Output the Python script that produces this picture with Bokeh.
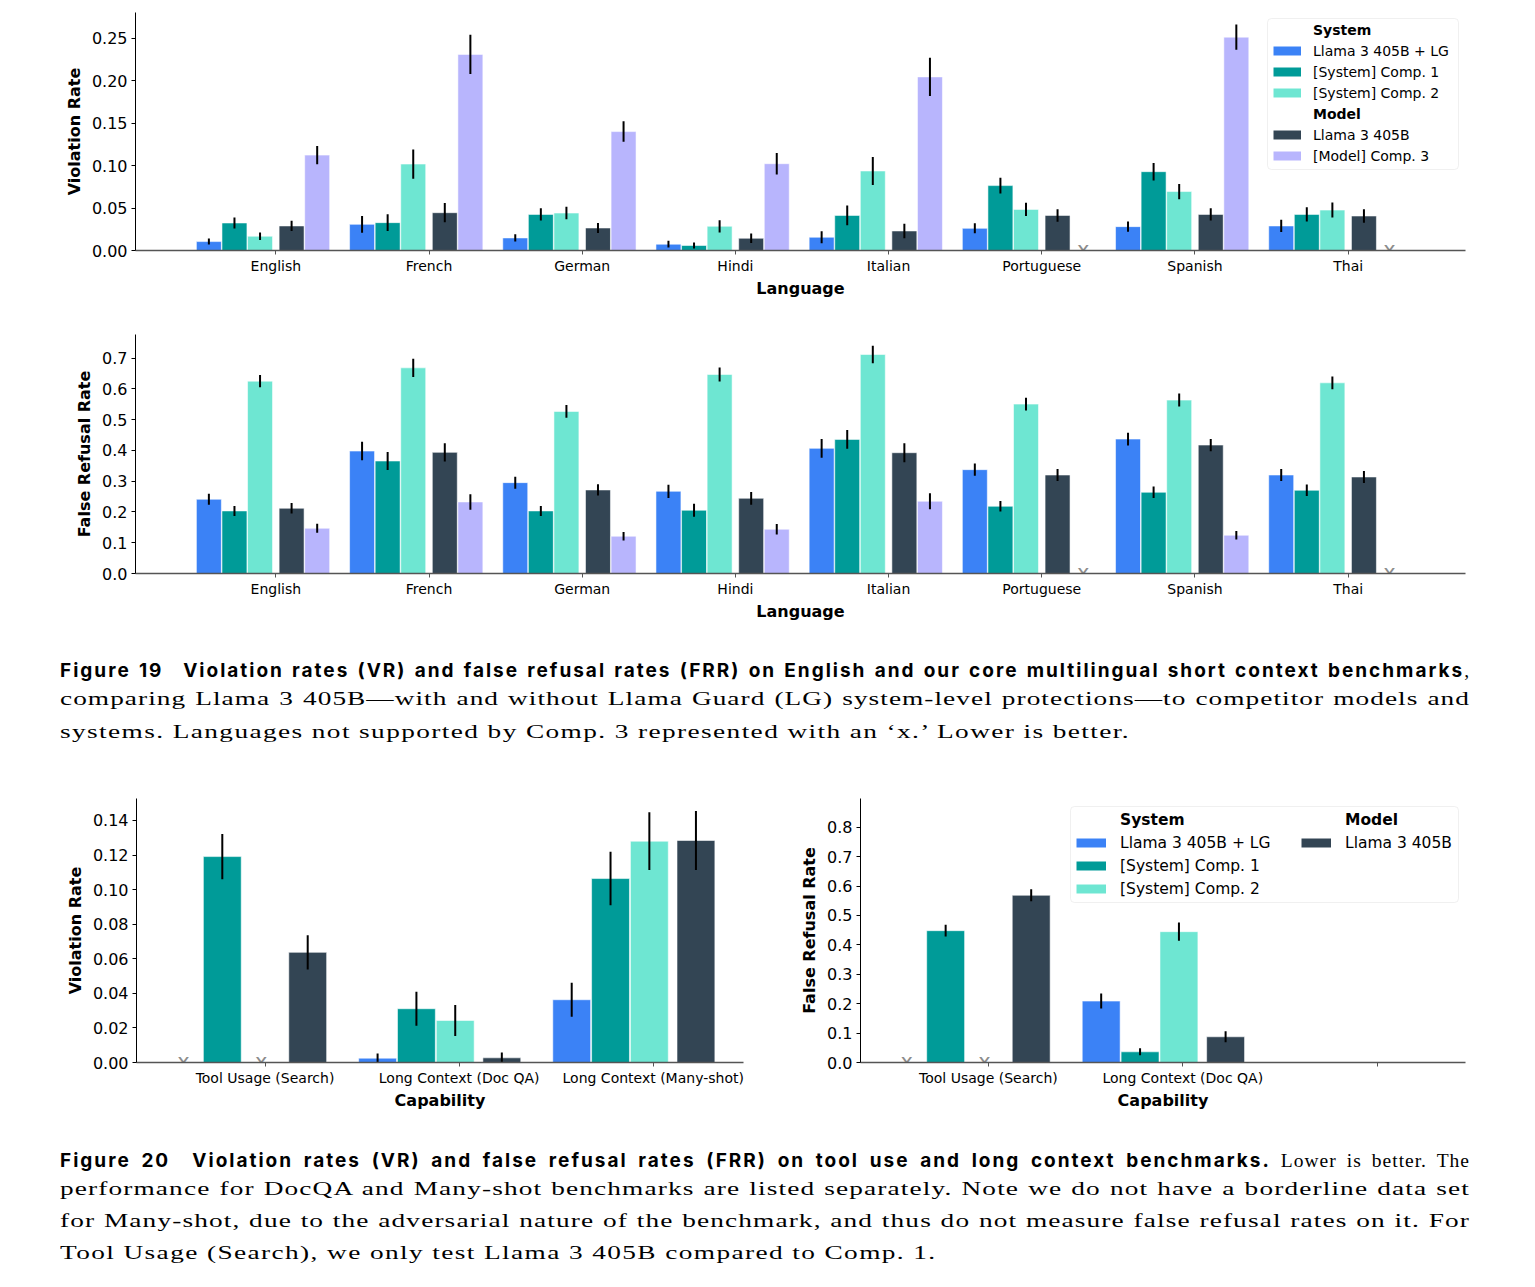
from bokeh.plotting import figure
from bokeh.models import (Range1d, FixedTicker, SingleIntervalTicker, PrintfTickFormatter,
                          Legend, LegendItem, BoxAnnotation, Div, ColumnDataSource)
from bokeh.layouts import column, row
from bokeh.core.properties import value
from bokeh.embed import file_html
from bokeh.resources import INLINE

# ---------------- data ----------------
languages = ["English", "French", "German", "Hindi", "Italian", "Portuguese", "Spanish", "Thai"]
series_names = ["Llama 3 405B + LG", "[System] Comp. 1", "[System] Comp. 2", "Llama 3 405B", "[Model] Comp. 3"]
series_colors = ["#3b82f6", "#009b98", "#6ee6d2", "#334554", "#b8b5fd"]

# Violation rate (Figure 19, top)
vr_llama_lg = [0.0105, 0.0308, 0.0148, 0.0074, 0.0156, 0.0261, 0.0281, 0.0289]
vr_comp1 = [0.0324, 0.0328, 0.0425, 0.0059, 0.0413, 0.0764, 0.0928, 0.0425]
vr_comp2 = [0.0168, 0.1018, 0.0441, 0.0285, 0.0936, 0.0484, 0.0694, 0.0476]
vr_llama = [0.0289, 0.0445, 0.0265, 0.0144, 0.0230, 0.0413, 0.0425, 0.0406]
vr_comp3 = [0.1123, 0.2309, 0.1400, 0.1022, 0.2044, None, 0.2512, None]
vr_llama_lg_err = [0.0035, 0.0098, 0.0043, 0.0040, 0.0072, 0.0059, 0.0059, 0.0072]
vr_comp1_err = [0.0064, 0.0098, 0.0072, 0.0035, 0.0117, 0.0092, 0.0103, 0.0084]
vr_comp2_err = [0.0043, 0.0172, 0.0074, 0.0072, 0.0166, 0.0078, 0.0090, 0.0088]
vr_llama_err = [0.0060, 0.0113, 0.0059, 0.0055, 0.0086, 0.0074, 0.0072, 0.0080]
vr_comp3_err = [0.0107, 0.0230, 0.0121, 0.0127, 0.0226, None, 0.0148, None]

# False refusal rate (Figure 19, bottom)
frr_llama_lg = [0.2413, 0.3981, 0.2954, 0.2672, 0.4068, 0.3376, 0.4371, 0.3202]
frr_comp1 = [0.2034, 0.3657, 0.2034, 0.2056, 0.4360, 0.2185, 0.2640, 0.2705]
frr_comp2 = [0.6253, 0.6686, 0.5269, 0.6470, 0.7119, 0.5507, 0.5637, 0.6199]
frr_llama = [0.2121, 0.3938, 0.2716, 0.2445, 0.3927, 0.3202, 0.4176, 0.3138]
frr_comp3 = [0.1471, 0.2326, 0.1212, 0.1439, 0.2348, None, 0.1244, None]
frr_llama_lg_err = [0.0180, 0.0300, 0.0195, 0.0216, 0.0308, 0.0200, 0.0206, 0.0195]
frr_comp1_err = [0.0162, 0.0292, 0.0162, 0.0211, 0.0303, 0.0173, 0.0189, 0.0189]
frr_comp2_err = [0.0200, 0.0298, 0.0206, 0.0227, 0.0287, 0.0206, 0.0211, 0.0206]
frr_llama_err = [0.0173, 0.0298, 0.0184, 0.0206, 0.0308, 0.0195, 0.0200, 0.0195]
frr_comp3_err = [0.0146, 0.0254, 0.0141, 0.0173, 0.0260, None, 0.0141, None]

# Figure 20
capabilities = ["Tool Usage (Search)", "Long Context (Doc QA)", "Long Context (Many-shot)"]
frr_capability_ticks = ["Tool Usage (Search)", "Long Context (Doc QA)", ""]
cap_vr_llama_lg = [None, 0.0025, 0.0363]
cap_vr_comp1 = [0.1191, 0.0311, 0.1064]
cap_vr_comp2 = [None, 0.0243, 0.1280]
cap_vr_llama = [0.0637, 0.0027, 0.1284]
cap_vr_llama_lg_err = [None, 0.0027, 0.0098]
cap_vr_comp1_err = [0.0131, 0.0098, 0.0155]
cap_vr_comp2_err = [None, 0.0089, 0.0167]
cap_vr_llama_err = [0.0099, 0.0031, 0.0170]

cap_frr_llama_lg = [None, 0.2088]
cap_frr_comp1 = [0.4482, 0.0363]
cap_frr_comp2 = [None, 0.4448]
cap_frr_llama = [0.5685, 0.0874]
cap_frr_llama_lg_err = [None, 0.0255]
cap_frr_comp1_err = [0.0199, 0.0119]
cap_frr_comp2_err = [None, 0.0312]
cap_frr_llama_err = [0.0204, 0.0187]

# caption texts
caption19_bold = "Figure 19\u2002 Violation rates (VR) and false refusal rates (FRR) on English and our core multilingual short context benchmarks"
caption19_lines = [
    "comparing Llama 3 405B\u2014with and without Llama Guard (LG) system-level protections\u2014to competitor models and",
    "systems. Languages not supported by Comp. 3 represented with an \u2018x.\u2019 Lower is better.",
]
caption20_bold = "Figure 20\u2002 Violation rates (VR) and false refusal rates (FRR) on tool use and long context benchmarks."
caption20_rest = " Lower is better. The"
caption20_lines = [
    "performance for DocQA and Many-shot benchmarks are listed separately. Note we do not have a borderline data set",
    "for Many-shot, due to the adversarial nature of the benchmark, and thus do not measure false refusal rates on it. For",
    "Tool Usage (Search), we only test Llama 3 405B compared to Comp. 1.",
]

# ---------------- layout constants ----------------
TOP_OFFSETS = [-0.437, -0.27, -0.103, 0.103, 0.27]
TOP_WIDTH = 0.163
BOT_OFFSETS = [-0.42, -0.22, -0.02, 0.22]
BOT_WIDTH = 0.195
NAN = float("nan")


def make_fig(width, height, mbl, mbr, mbt, mbb, xr, yr):
    p = figure(width=width, height=height, x_range=Range1d(*xr), y_range=Range1d(*yr),
               output_backend="svg", toolbar_location=None, title=None,
               min_border_left=mbl, min_border_right=mbr, min_border_top=mbt, min_border_bottom=mbb)
    p.outline_line_color = None
    p.grid.visible = False
    p.background_fill_color = "white"
    p.border_fill_color = "white"
    return p


def style_axes(p, ticks_labels, xlabel, ylabel, yinterval, yfmt):
    p.xaxis.ticker = FixedTicker(ticks=list(range(len(ticks_labels))))
    p.xaxis.major_label_overrides = {i: lab for i, lab in enumerate(ticks_labels)}
    p.yaxis.ticker = SingleIntervalTicker(interval=yinterval, num_minor_ticks=0)
    p.yaxis.formatter = PrintfTickFormatter(format=yfmt)
    p.xaxis.axis_label = xlabel
    p.yaxis.axis_label = ylabel
    for ax in (p.xaxis, p.yaxis):
        ax.axis_label_text_font = "DejaVu Sans"
        ax.axis_label_text_font_style = "bold"
        ax.axis_label_text_font_size = "16px"
        ax.axis_label_text_color = "black"
        ax.major_label_text_font = "DejaVu Sans"
        ax.major_label_text_color = "black"
        ax.major_tick_in = 0
        ax.major_tick_out = 4
        ax.major_tick_line_color = "black"
        ax.minor_tick_line_color = None
    p.xaxis.major_label_text_font_size = "14px"
    p.yaxis.major_label_text_font_size = "16px"
    p.xaxis.major_label_standoff = 3
    p.yaxis.major_label_standoff = 4
    p.xaxis.axis_label_standoff = 2
    p.yaxis.axis_label_standoff = 5
    p.xaxis.axis_line_color = "#555555"
    p.xaxis.axis_line_width = 1.6
    p.xaxis.major_tick_line_color = "#555555"
    p.yaxis.axis_line_color = "black"
    p.yaxis.axis_line_width = 1


def draw_bars(p, values_list, errs_list, offsets, width, colors):
    missing = []
    for vals, errs, off, col in zip(values_list, errs_list, offsets, colors):
        xs, tops, los, his = [], [], [], []
        for i, (v, e) in enumerate(zip(vals, errs)):
            if v is None:
                missing.append(i + off)
                continue
            xs.append(i + off)
            tops.append(v)
            los.append(v - e)
            his.append(v + e)
        src = ColumnDataSource(dict(x=xs, top=tops, lo=los, hi=his))
        p.vbar(x="x", top="top", width=width, source=src, fill_color=col,
               line_color="white", line_alpha=0.55, line_width=1)
        p.segment(x0="x", y0="lo", x1="x", y1="hi", source=src, line_color="black", line_width=2)
    if missing:
        msrc = ColumnDataSource(dict(x=missing, y=[0.0] * len(missing), t=["x"] * len(missing)))
        p.text(x="x", y="y", text="t", source=msrc, text_font=value("DejaVu Sans"),
               text_font_size="21px", text_color="#8c8c8c", text_align="center",
               text_baseline="alphabetic", y_offset=-1)


def swatch(p, color, alpha=1.0):
    # legend-only renderer: a single NaN segment draws nothing in the plot area
    return p.segment(x0=[NAN], y0=[NAN], x1=[NAN], y1=[NAN], line_color=color, line_width=9,
                     line_cap="butt", line_alpha=alpha)


def add_legend(p, labels, renderers, vx, vy, fsize, lh, spacing, gw, standoff, bold):
    items = [LegendItem(label=lab, renderers=[r]) for lab, r in zip(labels, renderers)]
    lg = Legend(items=items, location=(vx, vy), orientation="vertical",
                label_text_font="DejaVu Sans", label_text_font_size=fsize,
                label_text_font_style="bold" if bold else "normal", label_text_color="black",
                label_height=lh, glyph_height=lh, glyph_width=gw, label_standoff=standoff,
                spacing=spacing, padding=0, margin=0,
                border_line_color=None, background_fill_alpha=0)
    p.add_layout(lg, "center")


def frame_box(p, left, right, bottom, top):
    box = BoxAnnotation(left=left, right=right, bottom=bottom, top=top,
                        left_units="screen", right_units="screen",
                        top_units="screen", bottom_units="screen",
                        fill_color="white", fill_alpha=0.85, line_color="#cccccc",
                        line_width=1, border_radius=4)
    p.add_layout(box)


# ---------------- Figure 19 top: violation rate ----------------
p1 = make_fig(1519, 292, 127, 62, 4, 49, (-0.916, 7.766), (0, 0.2802))
style_axes(p1, languages, "Language", "Violation Rate", 0.05, "%.2f")
draw_bars(p1, [vr_llama_lg, vr_comp1, vr_comp2, vr_llama, vr_comp3],
          [vr_llama_lg_err, vr_comp1_err, vr_comp2_err, vr_llama_err, vr_comp3_err],
          TOP_OFFSETS, TOP_WIDTH, series_colors)
frame_box(p1, 1132, 1323, 81, 232)
sw = [swatch(p1, c) for c in series_colors]
blank1 = swatch(p1, "white", 0.0)
add_legend(p1, ["", series_names[0], series_names[1], series_names[2], "", series_names[3], series_names[4]],
           [blank1, sw[0], sw[1], sw[2], blank1, sw[3], sw[4]], 1138, 86, "14px", 17, 4, 28, 12, False)
add_legend(p1, ["System", "", "", "", "Model", "", ""], [blank1] * 7, 1138, 86, "14px", 17, 4, 28, 12, True)

# ---------------- Figure 19 bottom: false refusal rate ----------------
p2 = make_fig(1519, 345, 127, 62, 34, 72, (-0.916, 7.766), (0, 0.777))
style_axes(p2, languages, "Language", "False Refusal Rate", 0.1, "%.1f")
draw_bars(p2, [frr_llama_lg, frr_comp1, frr_comp2, frr_llama, frr_comp3],
          [frr_llama_lg_err, frr_comp1_err, frr_comp2_err, frr_llama_err, frr_comp3_err],
          TOP_OFFSETS, TOP_WIDTH, series_colors)

# ---------------- captions ----------------
CAP_W = 1410
SANS = "font-family:Inter,'DejaVu Sans',sans-serif;font-weight:700;font-size:19px;letter-spacing:2px;"
SERIF_FS = 19.5
SERIF_LS = 1.0
SERIF_SCALE = 1.4
SERIF_TARGET = 1395
SERIF_FONT = "font-family:'Liberation Serif',serif;font-weight:400;"
SERIF_INLINE = SERIF_FONT + f"font-size:{SERIF_FS}px;letter-spacing:{SERIF_LS}px;"

# Times-compatible advance widths (per 1000 em) used to keep justified lines on one line
_TW = dict(zip("abcdefghijklmnopqrstuvwxyz",
               [444, 500, 444, 500, 444, 333, 500, 500, 278, 278, 500, 278, 778, 500, 500, 500, 500, 333, 389, 278,
                500, 500, 722, 500, 500, 444]))
_TW.update(zip("ABCDEFGHIJKLMNOPQRSTUVWXYZ",
               [722, 667, 667, 722, 611, 556, 722, 722, 333, 389, 722, 611, 889, 722, 722, 556, 722, 667, 556, 611,
                722, 722, 944, 722, 722, 611]))
_TW.update({c: 500 for c in "0123456789"})
_TW.update({" ": 250, ".": 250, ",": 250, "-": 333, "(": 333, ")": 333, "\u2014": 1000, "\u2018": 333, "\u2019": 333})


def serif_line(text, h, justify=True):
    n = len(text)
    glyphs = sum(_TW.get(ch, 500) for ch in text) * SERIF_FS / 1000.0
    ls = SERIF_LS
    if justify:
        ls = min(ls, (SERIF_TARGET / SERIF_SCALE - glyphs) / n)
    inner_w = CAP_W / SERIF_SCALE
    align = "text-align:justify;text-align-last:justify;" if justify else "text-align:left;"
    return (f'<div style="width:{inner_w:.2f}px;height:{h}px;line-height:{h}px;{align}color:#000;'
            f'transform:scaleX({SERIF_SCALE});transform-origin:0 0;{SERIF_FONT}'
            f'font-size:{SERIF_FS}px;letter-spacing:{ls:.2f}px;">{text}</div>')


def bold_line(bold, rest, h):
    return (f'<div style="width:{CAP_W}px;height:{h}px;line-height:{h}px;text-align:justify;'
            f'text-align-last:justify;color:#000;"><span style="{SANS}">{bold}</span>'
            f'<span style="{SERIF_INLINE}">{rest}</span></div>')


cap1_html = (
    f'<div style="width:{CAP_W}px;padding-top:13px;">'
    + bold_line(caption19_bold, ",", 25)
    + serif_line(caption19_lines[0], 32.5)
    + serif_line(caption19_lines[1], 32.5, False)
    + '</div>'
)
cap1 = Div(text=cap1_html, width=CAP_W, height=115, margin=(0, 0, 0, 52))

# ---------------- Figure 20 left: violation rate ----------------
p3 = make_fig(752, 365, 128, 17, 38, 63, (-0.662, 2.465), (0, 0.1527))
style_axes(p3, capabilities, "Capability", "Violation Rate", 0.02, "%.2f")
draw_bars(p3, [cap_vr_llama_lg, cap_vr_comp1, cap_vr_comp2, cap_vr_llama],
          [cap_vr_llama_lg_err, cap_vr_comp1_err, cap_vr_comp2_err, cap_vr_llama_err],
          BOT_OFFSETS, BOT_WIDTH, series_colors[:4])

# ---------------- Figure 20 right: false refusal rate ----------------
p4 = make_fig(767, 365, 100, 62, 38, 63, (-0.658, 2.454), (0, 0.8976))
style_axes(p4, frr_capability_ticks, "Capability", "False Refusal Rate", 0.1, "%.1f")
draw_bars(p4, [cap_frr_llama_lg, cap_frr_comp1, cap_frr_comp2, cap_frr_llama],
          [cap_frr_llama_lg_err, cap_frr_comp1_err, cap_frr_comp2_err, cap_frr_llama_err],
          BOT_OFFSETS, BOT_WIDTH, series_colors[:4])
frame_box(p4, 210, 598, 160, 256)
sw4 = [swatch(p4, c) for c in series_colors[:4]]
blank4 = swatch(p4, "white", 0.0)
add_legend(p4, ["", series_names[0], series_names[1], series_names[2]],
           [blank4, sw4[0], sw4[1], sw4[2]], 216, 164, "15.5px", 19, 4, 30, 14, False)
add_legend(p4, ["System", "", "", ""], [blank4] * 4, 216, 164, "15.5px", 19, 4, 30, 14, True)
add_legend(p4, ["", series_names[3], "", ""], [blank4, sw4[3], blank4, blank4],
           441, 164, "15.5px", 19, 4, 30, 14, False)
add_legend(p4, ["Model", "", "", ""], [blank4] * 4, 441, 164, "15.5px", 19, 4, 30, 14, True)

cap2_html = (
    f'<div style="width:{CAP_W}px;padding-top:23px;">'
    + bold_line(caption20_bold, caption20_rest, 25)
    + serif_line(caption20_lines[0], 32.2)
    + serif_line(caption20_lines[1], 32.2)
    + serif_line(caption20_lines[2], 32.2, False)
    + '</div>'
)
cap2 = Div(text=cap2_html, width=CAP_W, height=150, margin=(0, 0, 0, 52))

layout = column(p1, p2, cap1, row(p3, p4), cap2, margin=(8, 0, 0, 8))
open("out.html", "w").write(file_html(layout, INLINE))
